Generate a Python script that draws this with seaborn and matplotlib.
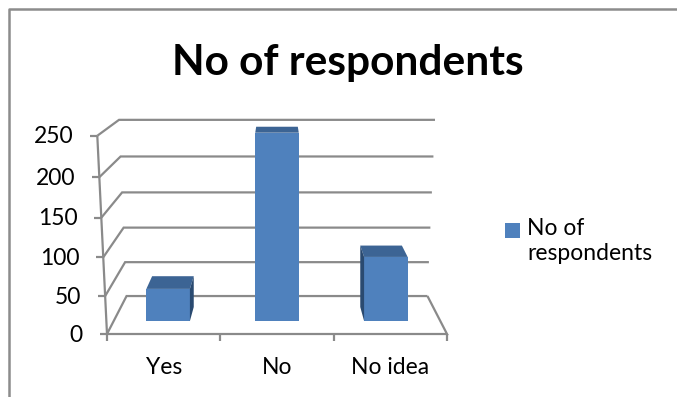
import numpy as np
import matplotlib
matplotlib.use("Agg")
import matplotlib.pyplot as plt
from matplotlib.patches import Polygon, Rectangle
import seaborn as sns
import pandas as pd

# ---- data ----
categories = ["Yes", "No", "No idea"]
respondents = [44, 247, 87]
series_label = "No of\nrespondents"
y_ticks = [0, 50, 100, 150, 200, 250]
title = "No of respondents"

sns.set_style("white")
plt.rcParams["font.family"] = ["Lato", "DejaVu Sans"]

BLUE = "#4F81BD"
TOP = "#3C6494"
SIDE = "#2A4A70"
GRID = "#8A8A8A"
FS = 16.5

W, H = 677, 397
fig = plt.figure(figsize=(W / 100, H / 100), dpi=100)
ax0 = fig.add_axes([0, 0, 1, 1])
ax0.set_xlim(0, W)
ax0.set_ylim(H, 0)
ax0.axis("off")

# ---- perspective model (pixel space) ----
VPX, VPY = 277.0, 4.0
FX0, FX1 = 107.0, 447.0
YSPAN = 330.0
G = 0.8214
C = 0.000216
E = 0.13
VMAX = y_ticks[-1]
catw = (FX1 - FX0) / len(categories)


def w(v, z):
    return 1 - C * v + E * z


def proj(xp, v, z):
    ww = w(v, z)
    return VPX + (xp - VPX) / ww, VPY + (YSPAN - G * v) / ww


lkw = dict(color=GRID, lw=1.6, solid_capstyle="butt", solid_joinstyle="miter")

# outer border
ax0.plot([9, 9, W + 5], [H + 5, 9, 9], color="#8C8C8C", lw=1.8, clip_on=False)

# walls / gridlines
for v in y_ticks:
    a = proj(FX0, v, 0)
    b = proj(FX0, v, 1)
    c = proj(FX1, v, 1)
    ax0.plot([a[0], b[0], c[0]], [a[1], b[1], c[1]], **lkw)
# floor front and right edges
f0 = proj(FX0, 0, 0)
f1 = proj(FX1, 0, 0)
f2 = proj(FX1, 0, 1)
ax0.plot([f0[0], f1[0], f2[0]], [f0[1], f1[1], f2[1]], **lkw)
# front vertical axis
t0 = proj(FX0, VMAX, 0)
ax0.plot([f0[0], t0[0]], [f0[1], t0[1]], **lkw)
# y ticks and labels
for v in y_ticks:
    a = proj(FX0, v, 0)
    ax0.plot([a[0] - 7, a[0]], [a[1], a[1]], **lkw)
    ax0.text(a[0] - 24, a[1] + 1, f"{v}", ha="right", va="center", fontsize=FS, color="black")
# category ticks and labels
for i in range(len(categories) + 1):
    xp = FX0 + i * catw
    ax0.plot([xp, xp], [f0[1], f0[1] + 7], **lkw)
for i, cat in enumerate(categories):
    xp = FX0 + (i + 0.5) * catw
    ax0.text(xp, 367, cat, ha="center", va="center", fontsize=FS, color="black")

# title
ax0.text(348, 75, title, ha="center", va="baseline", fontsize=30.5, fontweight="bold", color="black")

# legend
ax0.add_patch(Rectangle((505, 223), 15, 15, facecolor=BLUE, edgecolor="none"))
ax0.text(527, 218, series_label, ha="left", va="top", fontsize=FS,
         color="black", linespacing=1.25)

# ---- bars (front faces via seaborn, on a perspective-matched scale) ----
Z0, Z1 = 0.315, 0.685
w0 = 1 + E * Z0
bx0 = VPX + (FX0 - VPX) / w0
bx1 = VPX + (FX1 - VPX) / w0
by0 = proj(FX0, 0, Z0)[1]
by1 = proj(FX0, VMAX, Z0)[1]
axb = fig.add_axes([bx0 / W, 1 - by0 / H, (bx1 - bx0) / W, (by0 - by1) / H])


def fwd(v):
    v = np.asarray(v, dtype=float)
    return -(VPY + (YSPAN - G * v) / (w0 - C * v))


def inv(f):
    y = -np.asarray(f, dtype=float)
    return ((y - VPY) * w0 - YSPAN) / ((y - VPY) * C - G)


df = pd.DataFrame({"category": categories, "value": respondents})
sns.barplot(data=df, x="category", y="value", color=BLUE, saturation=1,
            width=0.4, linewidth=0, errorbar=None, ax=axb)
axb.set_yscale("function", functions=(fwd, inv))
axb.set_xlim(-0.5, len(categories) - 0.5)
axb.set_ylim(0, VMAX)
axb.axis("off")
axb.patch.set_alpha(0)


def bp(xp, v, z):
    return VPX + (xp - VPX) / w(0, z), VPY + (YSPAN - G * v) / w(v, z)


for p in list(axb.patches):
    x0 = p.get_x()
    x1 = x0 + p.get_width()
    h = p.get_height()
    X0 = FX0 + (x0 + 0.5) * catw
    X1 = FX0 + (x1 + 0.5) * catw
    top = [bp(X0, h, Z0), bp(X1, h, Z0), bp(X1, h, Z1), bp(X0, h, Z1)]
    axb.add_patch(Polygon(top, closed=True, facecolor=TOP, edgecolor="none",
                          transform=ax0.transData, clip_on=False, zorder=3))
    if bp(X1, 0, Z0)[0] < VPX:
        side = [bp(X1, 0, Z0), bp(X1, h, Z0), bp(X1, h, Z1), bp(X1, 0, Z1)]
        axb.add_patch(Polygon(side, closed=True, facecolor=SIDE, edgecolor="none",
                              transform=ax0.transData, clip_on=False, zorder=3))
    elif bp(X0, 0, Z0)[0] > VPX:
        side = [bp(X0, 0, Z0), bp(X0, h, Z0), bp(X0, h, Z1), bp(X0, 0, Z1)]
        axb.add_patch(Polygon(side, closed=True, facecolor=SIDE, edgecolor="none",
                              transform=ax0.transData, clip_on=False, zorder=3))

fig.savefig("out.png", dpi=100)
